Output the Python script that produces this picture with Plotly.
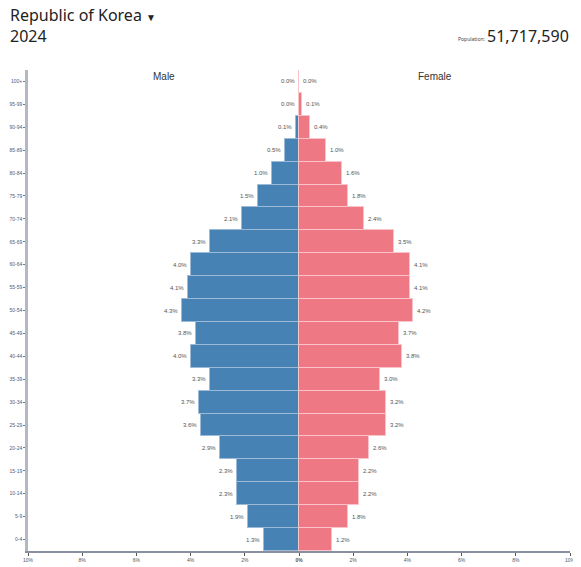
import plotly.graph_objects as go

age_groups = ["0-4", "5-9", "10-14", "15-19", "20-24", "25-29", "30-34", "35-39",
              "40-44", "45-49", "50-54", "55-59", "60-64", "65-69", "70-74",
              "75-79", "80-84", "85-89", "90-94", "95-99", "100+"]
male_pct = [1.3, 1.9, 2.3, 2.3, 2.9, 3.6, 3.7, 3.3, 4.0, 3.8, 4.3, 4.1, 4.0,
            3.3, 2.1, 1.5, 1.0, 0.5, 0.1, 0.0, 0.0]
female_pct = [1.2, 1.8, 2.2, 2.2, 2.6, 3.2, 3.2, 3.0, 3.8, 3.7, 4.2, 4.1, 4.1,
              3.5, 2.4, 1.8, 1.6, 1.0, 0.4, 0.1, 0.0]
x_ticks = [-10, -8, -6, -4, -2, 0, 2, 4, 6, 8, 10]
x_tick_labels = ["10%", "8%", "6%", "4%", "2%", "<b>0%</b>", "2%", "4%", "6%", "8%", "10%"]
country = "Republic of Korea"
year = "2024"
population = "51,717,590"

MALE_C = "#4682b4"
FEMALE_C = "#ee7884"

# page body has an 8px margin, so the figure is offset by (8, 8)
OFF = 8
W, H = 581 - OFF, 567 - OFF
ML, MR, MT, MB = 28 - OFF, 11, 70 - OFF, 16
pw, ph = W - ML - MR, H - MT - MB

fig = go.Figure()
fig.add_trace(go.Bar(
    y=age_groups, x=[-v for v in male_pct], orientation="h", name="Male",
    marker=dict(color=MALE_C, line=dict(color="#9dbad6", width=1)),
    hoverinfo="skip",
))
fig.add_trace(go.Bar(
    y=age_groups, x=female_pct, orientation="h", name="Female",
    marker=dict(color=FEMALE_C, line=dict(color="#f8c3c9", width=1)),
    hoverinfo="skip",
))

annotations = []
for g, m, f in zip(age_groups, male_pct, female_pct):
    annotations.append(dict(x=-m, y=g, xref="x", yref="y", text=f"{m:.1f}%",
                            showarrow=False, xanchor="right", xshift=-2,
                            font=dict(size=6, color="#555555", family="Arial")))
    annotations.append(dict(x=f, y=g, xref="x", yref="y", text=f"{f:.1f}%",
                            showarrow=False, xanchor="left", xshift=2,
                            font=dict(size=6, color="#555555", family="Arial")))

annotations += [
    dict(x=-5, y=1, xref="x", yref="paper", text="Male", showarrow=False,
         yanchor="top", yshift=1, font=dict(size=10, color="#333333", family="Arial")),
    dict(x=5, y=1, xref="x", yref="paper", text="Female", showarrow=False,
         yanchor="top", yshift=1, font=dict(size=10, color="#333333", family="Arial")),
]
header = [
    dict(x=8, y=15, text=country + " <span style='font-size:10px'>▼</span>",
         xanchor="left", font=dict(size=16, color="#222222", family="Noto Sans")),
    dict(x=8, y=36, text=year,
         xanchor="left", font=dict(size=16, color="#222222", family="Noto Sans")),
    dict(x=571, y=36, text=population,
         xanchor="right", font=dict(size=16, color="#222222", family="Noto Sans")),
    dict(x=487, y=39, text="Population:",
         xanchor="right", font=dict(size=5, color="#444444", family="Noto Sans")),
]
for a in header:
    a.update(xref="paper", yref="paper", showarrow=False, yanchor="middle",
             x=(a["x"] - OFF - ML) / pw, y=1 - (a["y"] - OFF - MT) / ph)
    annotations.append(a)

fig.update_layout(
    width=W, height=H,
    margin=dict(l=ML, r=MR, t=MT, b=MB, autoexpand=False),
    paper_bgcolor="white", plot_bgcolor="white",
    barmode="relative", bargap=0, showlegend=False,
    annotations=annotations,
    xaxis=dict(range=[-10, 10], tickvals=x_ticks, ticktext=x_tick_labels,
               showgrid=False, zeroline=False, showline=True, linecolor="#8a8fa0",
               linewidth=1.5, ticks="outside", ticklen=3, tickcolor="#555555",
               automargin=False,
               tickfont=dict(size=5, color="#555555", family="Arial"), fixedrange=True),
    yaxis=dict(type="category", categoryorder="array", categoryarray=age_groups,
               range=[-0.5, len(age_groups) - 0.5], automargin=False,
               showgrid=False, zeroline=False, showline=True, linecolor="#b4b8c4",
               linewidth=2.5, ticks="outside", ticklen=2, tickcolor="#777777",
               tickfont=dict(size=5, color="#4a5a80", family="Arial"), fixedrange=True),
    font=dict(family="Arial"),
)

fig.write_html("out.html")
